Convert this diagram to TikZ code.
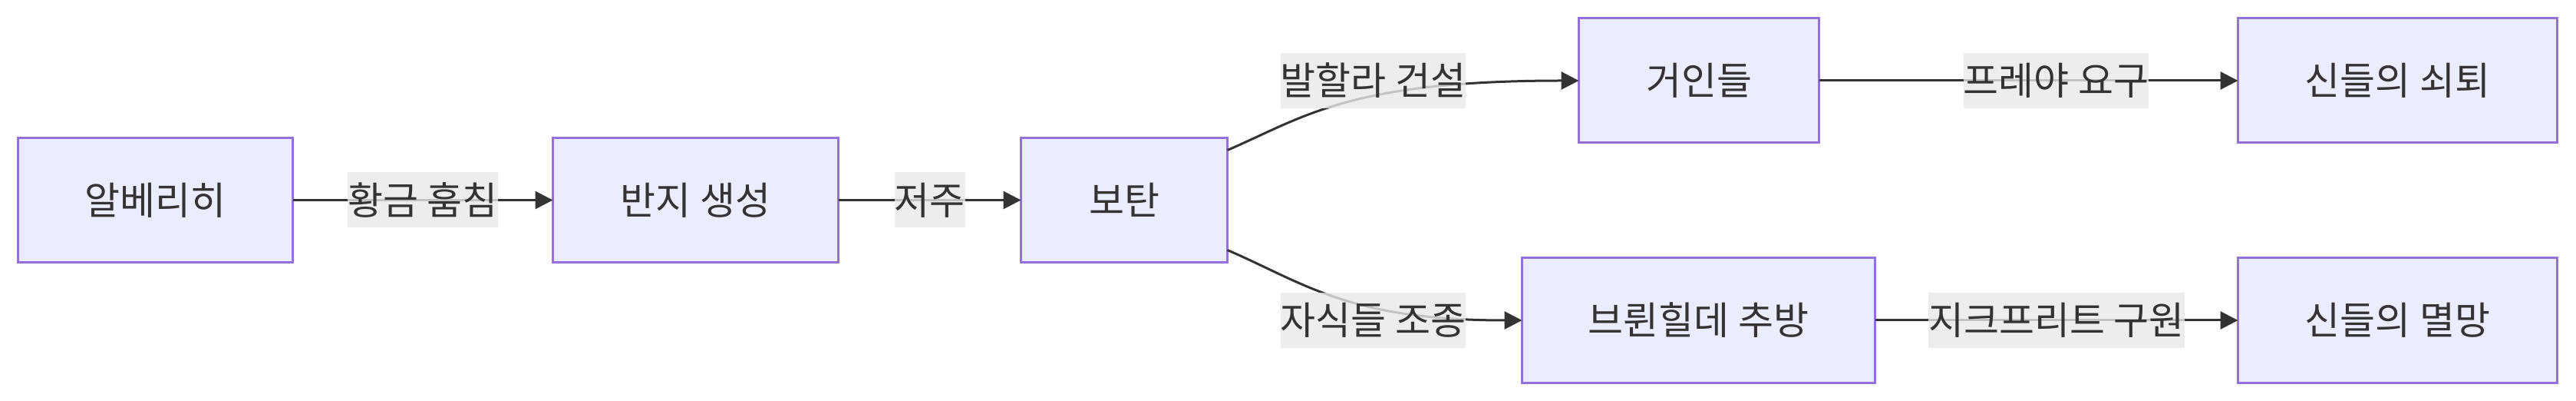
\documentclass[tikz,border=0pt]{standalone}
\usepackage{fontspec}
\setmainfont{Noto Sans CJK KR}
\definecolor{mmdpurple}{HTML}{9370DB}
\definecolor{mmdfill}{HTML}{ECECFF}
\definecolor{mmdtext}{HTML}{333333}
\definecolor{mmdlabel}{HTML}{E8E8E8}
\usetikzlibrary{arrows.meta, positioning}

\begin{document}
\begin{tikzpicture}[
    every node/.style={font=\fontsize{12.5}{15}\selectfont, text=mmdtext},
    stage/.style={rectangle, draw=mmdpurple, fill=mmdfill, line width=0.75pt, minimum height=40.5pt, outer sep=0pt},
    elabel/.style={rectangle, fill=mmdlabel, fill opacity=0.8, text opacity=1, inner xsep=0pt, inner ysep=0pt, minimum height=18pt},
    arrow/.style={-{Triangle[length=5.75pt, width=5.75pt]}, draw=mmdtext, line width=0.75pt}
]
    \useasboundingbox (0,0) rectangle (839.25pt,-130.5pt);
    \node[stage, minimum width=89.5pt] (alberich) at (50.625pt,-65.125pt) {알베리히};
    \node[stage, minimum width=93pt, right=84.75pt of alberich] (ring) {반지 생성};
    \node[stage, minimum width=67.25pt, right=59.5pt of ring] (wotan) {보탄};
    \node[stage, minimum width=78.25pt, right=114.5pt of wotan, yshift=38.875pt] (giants) {거인들};
    \node[stage, minimum width=115pt, right=96pt of wotan, yshift=-39.125pt] (bruenn) {브륀힐데 추방};
    \node[stage, minimum width=104pt, right=136.5pt of giants] (decline) {신들의 쇠퇴};
    \node[stage, minimum width=104pt, right=118.25pt of bruenn] (doom) {신들의 멸망};

    \draw[arrow] (alberich) -- node[elabel] (lgold) {황금 훔침} (ring);
    \draw[arrow] (ring) -- node[elabel] (lcurse) {저주} (wotan);
    \draw[arrow] ([yshift=-4pt]wotan.north east) .. controls +(25pt,10.75pt) and +(-75pt,0pt) .. (giants.west);
    \draw[arrow] ([yshift=4pt]wotan.south east) .. controls +(25pt,-10.75pt) and +(-56.5pt,0pt) .. (bruenn.west);
    \node[elabel] (lvalhalla) at ([xshift=-67pt]giants.west) {발할라 건설};
    \node[elabel] (lchildren) at ([xshift=-48.5pt]bruenn.west) {자식들 조종};
    \draw[arrow] (giants) -- node[elabel, pos=0.566] (lfreya) {프레야 요구} (decline);
    \draw[arrow] (bruenn) -- node[elabel] (lsiegfried) {지크프리트 구원} (doom);
\end{tikzpicture}
\end{document}
